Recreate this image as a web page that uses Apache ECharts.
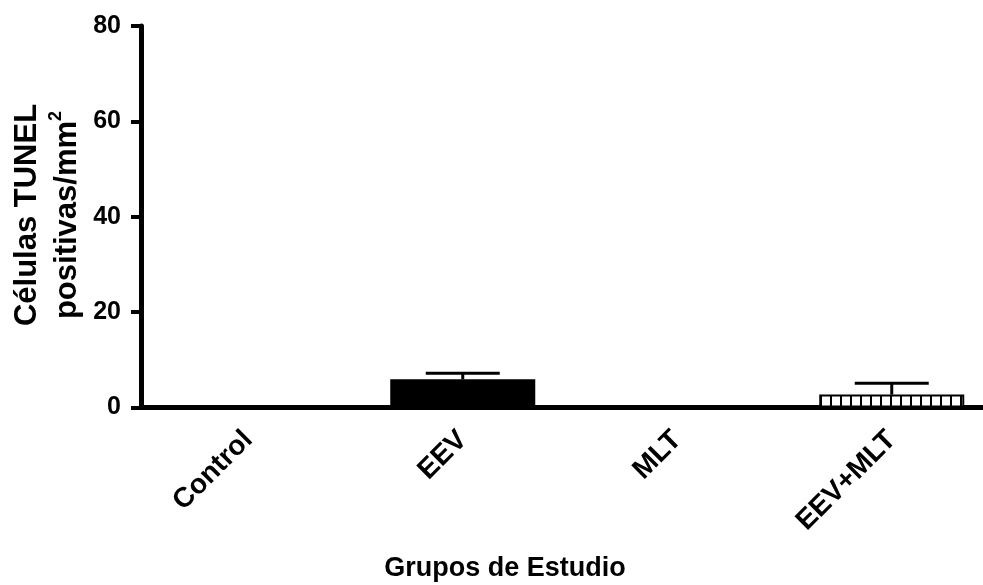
<!DOCTYPE html>
<html>
<head>
<meta charset="utf-8">
<script src="https://cdn.jsdelivr.net/npm/echarts@6/dist/echarts.min.js"></script>
<style>
  html, body { margin: 0; padding: 0; background: #fff; }
  #chart { width: 983px; height: 585px; }
</style>
</head>
<body>
<div id="chart"></div>
<script>
// Study groups and TUNEL-positive cell counts (mean and upper whisker)
const categories = ['Control', 'EEV', 'MLT', 'EEV+MLT'];
const means = [0, 5.9, 0, 2.7];
const upperErrors = [0, 7.2, 0, 5.1];
const yTicks = [0, 20, 40, 60, 80];

const FONT = "'Liberation Sans', Arial, Helvetica, sans-serif";

// Vertical-line hatch used for the combined treatment bar
function hatchPattern() {
  const c = document.createElement('canvas');
  c.width = 10; c.height = 10;
  const ctx = c.getContext('2d');
  ctx.fillStyle = '#fff';
  ctx.fillRect(0, 0, 10, 10);
  ctx.fillStyle = '#000';
  ctx.fillRect(0, 0, 2, 10);
  return c;
}

const barStyles = [
  { color: '#000' },
  { color: '#000' },
  { color: '#000' },
  { color: { image: hatchPattern(), repeat: 'repeat' }, borderColor: '#000', borderWidth: 2 }
];

const chart = echarts.init(document.getElementById('chart'), null, { renderer: 'canvas' });

chart.setOption({
  animation: false,
  backgroundColor: '#fff',
  // the plotting area runs past the right edge of the canvas
  grid: { left: 141, top: 26, width: 858, height: 381.5, containLabel: false, outerBoundsMode: 'none' },
  xAxis: {
    type: 'category',
    data: categories,
    axisLine: { lineStyle: { color: '#000', width: 5 } },
    axisTick: { alignWithLabel: true, length: 12, lineStyle: { color: '#000', width: 5 } },
    axisLabel: {
      rotate: 45, margin: 28, color: '#000',
      fontFamily: FONT, fontWeight: 'bold', fontSize: 28
    },
    splitLine: { show: false }
  },
  yAxis: {
    type: 'value',
    min: yTicks[0], max: yTicks[yTicks.length - 1], interval: 20,
    axisLine: { show: true, lineStyle: { color: '#000', width: 5 } },
    axisTick: { show: true, length: 10, lineStyle: { color: '#000', width: 4 } },
    axisLabel: {
      margin: 20, color: '#000',
      fontFamily: FONT, fontWeight: 'bold', fontSize: 25
    },
    splitLine: { show: false }
  },
  series: [
    {
      type: 'bar',
      barWidth: '67.6%',
      data: means.map((v, i) => ({ value: v, itemStyle: barStyles[i] })),
      z: 2
    },
    {
      type: 'custom',
      z: 3,
      data: categories.map((c, i) => [i, means[i], upperErrors[i]]),
      renderItem: function (params, api) {
        const i = api.value(0);
        const lo = api.coord([i, api.value(1)]);
        const hi = api.coord([i, api.value(2)]);
        if (api.value(2) <= api.value(1)) return null;
        const band = api.size([1, 0])[0];
        const half = band * 0.345 / 2;
        const style = { stroke: '#000', lineWidth: 3 };
        return {
          type: 'group',
          children: [
            { type: 'line', shape: { x1: hi[0], y1: lo[1], x2: hi[0], y2: hi[1] }, style: style },
            { type: 'line', shape: { x1: hi[0] - half, y1: hi[1], x2: hi[0] + half, y2: hi[1] }, style: style }
          ]
        };
      }
    }
  ],
  graphic: [
    {
      type: 'text',
      x: 47, y: 215,
      rotation: Math.PI / 2,
      style: {
        text: 'Células TUNEL\npositivas/mm{sup|2}',
        fill: '#000',
        font: "bold 31px 'Liberation Sans', Arial, sans-serif",
        align: 'center',
        verticalAlign: 'middle',
        lineHeight: 40,
        rich: {
          sup: { fontSize: 18, fontWeight: 'bold', fontFamily: FONT, verticalAlign: 'top', padding: [0, 0, 16, 0], lineHeight: 40 }
        }
      }
    },
    {
      type: 'text',
      x: 505, y: 569,
      style: {
        text: 'Grupos de Estudio',
        fill: '#000',
        font: "bold 27px 'Liberation Sans', Arial, sans-serif",
        align: 'center',
        verticalAlign: 'middle'
      }
    }
  ]
});
</script>
</body>
</html>
